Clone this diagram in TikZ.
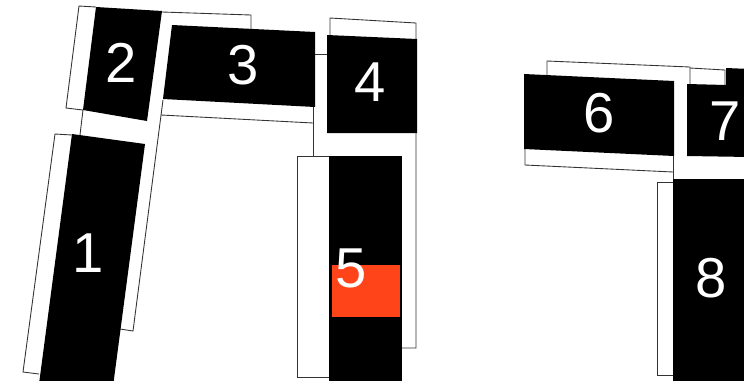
\documentclass[tikz,border=0pt]{standalone}
\usepackage{fontspec}
\setmainfont{Liberation Sans}
\definecolor{hotred}{RGB}{255,68,26}

\begin{document}
\begin{tikzpicture}[
  x=0.03cm, y=-0.03cm,
  ghost/.style={draw=black!80, line width=0.75pt},
  blk/.style={fill=black},
  num/.style={text=white, inner sep=0pt, font=\fontsize{48}{48}\selectfont}
]
\useasboundingbox (0,0) rectangle (744,380);
\clip (0,0) rectangle (744,380);

% outlines (left group)
\draw[ghost] (72,135) -- (55,134) -- (23,372) -- (39,374);
\draw[ghost] (96,7) -- (79,6) -- (66,108) -- (83,110) -- (80,135);
\draw[ghost] (163,100) -- (133,331) -- (120,329);
\draw[ghost] (162,12) -- (251,15) -- (251,29);
\draw[ghost] (161,115) -- (313,123);
\draw[ghost] (313,107) -- (313,156);
\draw[ghost] (315,54) -- (327,54);
\draw[ghost] (330,35) -- (330,18) -- (416,23) -- (416,348) -- (402,348);
\draw[ghost] (329,156) -- (297,156) -- (297,377) -- (329,377);

% outlines (right group)
\draw[ghost] (547,75) -- (547,61) -- (690,67) -- (690,84);
\draw[ghost] (690,68) -- (725,70) -- (725,85);
\draw[ghost] (525,149) -- (525,165) -- (673,172);
\draw[ghost] (673,156) -- (673,179);
\draw[ghost] (673,182) -- (657,182) -- (657,375) -- (673,375);

% black boxes
\fill[blk] (72,134) -- (145,144) -- (112,394) -- (39,384) -- cycle;
\fill[blk] (96,7) -- (162,11) -- (147,121) -- (83,110) -- cycle;
\fill[blk] (172,25) -- (315,32) -- (315,107) -- (163,99) -- cycle;
\fill[blk] (327,35) -- (417,39) -- (417,133) -- (327,133) -- cycle;
\fill[blk] (329,156) rectangle (402,390);
\fill[blk] (524,74) -- (674,81) -- (674,156) -- (524,149) -- cycle;
\fill[blk] (687,84) -- (726,85) -- (726,68) -- (750,69) -- (750,157) -- (687,156) -- cycle;
\fill[blk] (673,179) rectangle (750,390);

% highlight
\fill[hotred] (332,265) rectangle (400,317);

% numbers
\node[num] (n1) at (88,253) {1};
\node[num] (n2) at (121,63) {2};
\node[num] (n3) at (243,65) {3};
\node[num] (n4) at (370,82) {4};
\node[num] (n5) at (351,268) {5};
\node[num] (n6) at (599,113) {6};
\node[num] (n7) at (725,121) {7};
\node[num] (n8) at (711,278) {8};
\end{tikzpicture}
\end{document}
